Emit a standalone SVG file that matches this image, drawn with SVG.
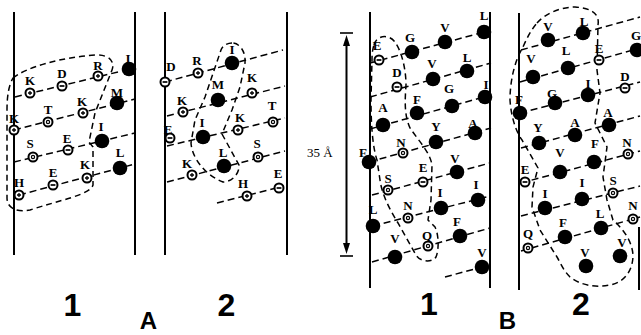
<svg xmlns="http://www.w3.org/2000/svg" xmlns:xlink="http://www.w3.org/1999/xlink" width="641" height="335" viewBox="0 0 641 335">
<style>
.ax{stroke:#000;stroke-width:2;fill:none}
.row{stroke:#000;stroke-width:1.5;stroke-dasharray:7 4;fill:none}
.loop{stroke:#000;stroke-width:1.5;stroke-dasharray:6 4;fill:none}
.lb{font-family:"Liberation Serif",serif;font-weight:bold;font-size:13px;text-anchor:middle;fill:#000}
.big{font-family:"Liberation Sans",Arial,sans-serif;font-weight:bold;text-anchor:middle;fill:#000}
</style>
<defs>
<circle id="h" r="7.3" fill="#000"/>
<g id="p"><circle r="4.5" fill="#fff" stroke="#000" stroke-width="2"/><path d="M-2,0H2M0,-2V2" stroke="#000" stroke-width="1.3"/></g>
<g id="n"><circle r="4.5" fill="#fff" stroke="#000" stroke-width="2"/><path d="M-2.4,0H2.4" stroke="#000" stroke-width="1.7"/></g>
<g id="o"><circle r="4.5" fill="#fff" stroke="#000" stroke-width="2"/><circle r="1.6" fill="none" stroke="#000" stroke-width="1.2"/></g>
</defs>
<rect width="641" height="335" fill="#fff"/>

<g id="axes">
<line class="ax" x1="14" y1="12" x2="14" y2="255"/>
<line class="ax" x1="135" y1="12" x2="135" y2="255"/>
<line class="ax" x1="165" y1="12" x2="165" y2="255"/>
<line class="ax" x1="287" y1="12" x2="287" y2="255"/>
<line class="ax" x1="370" y1="12" x2="370" y2="288"/>
<line class="ax" x1="490" y1="12" x2="490" y2="288"/>
<line class="ax" x1="519" y1="13" x2="519" y2="290"/>
<line class="ax" x1="639" y1="227" x2="639" y2="290"/>
</g>

<g id="connectors">
<line class="row" x1="15" y1="97" x2="122" y2="71"/>
<line class="row" x1="14" y1="130" x2="135" y2="99"/>
<line class="row" x1="14" y1="162" x2="135" y2="133"/>
<line class="row" x1="19" y1="195" x2="135" y2="164"/>
<line class="row" x1="165" y1="82" x2="283" y2="50"/>
<line class="row" x1="167" y1="116" x2="285" y2="86"/>
<line class="row" x1="167" y1="146" x2="285" y2="118"/>
<line class="row" x1="167" y1="182" x2="285" y2="151"/>
<line class="row" x1="217" y1="203" x2="284" y2="186"/>
<line class="row" x1="370" y1="63" x2="484" y2="32"/>
<line class="row" x1="370" y1="97" x2="491" y2="63"/>
<line class="row" x1="370" y1="129" x2="491" y2="95"/>
<line class="row" x1="369" y1="162" x2="491" y2="128"/>
<line class="row" x1="372" y1="195" x2="490" y2="163"/>
<line class="row" x1="373" y1="226" x2="490" y2="196"/>
<line class="row" x1="372" y1="262" x2="490" y2="228"/>
<line class="row" x1="445" y1="277" x2="482" y2="267"/>
<line class="row" x1="521" y1="50" x2="640" y2="17"/>
<line class="row" x1="520" y1="82" x2="640" y2="48"/>
<line class="row" x1="520" y1="113" x2="640" y2="82"/>
<line class="row" x1="521" y1="148" x2="640" y2="116"/>
<line class="row" x1="521" y1="183" x2="640" y2="151"/>
<line class="row" x1="521" y1="216" x2="640" y2="186"/>
<line class="row" x1="521" y1="251" x2="640" y2="217"/>
<path class="loop" d="M13,78 C25,68 60,57 97,55 C110,55 115,62 112,70 L95,113 L89,142 L93,147 L93,185 C90,195 60,200 30,210 C15,213 7,207 7,198 L7,110 C7,95 9,85 13,78 Z"/>
<path class="loop" d="M232,43 C226,43 222,47 221,50 L205,97 L195,120 L191,143 C192,158 205,175 223,182 C233,182 240,172 239,165 L222,134 L232,110 L240,87 L245,63 C246,52 240,43 232,43 Z"/>
<path class="loop" d="M374,45 C376,36 388,33 395,42 C402,52 406,70 406,85 C405,100 404,115 410,128 C418,140 430,152 432,165 L431,200 L428,220 L435,227 C439,235 439,250 436,257 C432,263 420,262 416,255 L398,223 C390,210 382,195 380,180 L377,160 C372,145 371,120 371,100 L372,60 C372,52 373,48 374,45 Z"/>
<path class="loop" d="M537,23 C545,14 560,7 575,7 C590,8 600,13 598,25 L597,70 L600,93 L595,123 L607,147 L603,177 L607,200 L613,220 C622,228 632,240 633,255 C633,270 625,282 610,285 C595,288 580,285 570,277 C563,270 560,262 557,257 L540,230 L532,207 L533,187 L538,168 L522,140 C515,130 511,115 510,100 C510,80 515,60 523,47 C527,38 531,30 537,23 Z"/>
</g>

<g id="scale">
<line x1="340" y1="33" x2="353" y2="33" stroke="#000" stroke-width="1.6"/>
<line x1="340" y1="256" x2="353" y2="256" stroke="#000" stroke-width="1.6"/>
<line x1="346.5" y1="42" x2="346.5" y2="247" stroke="#000" stroke-width="2"/>
<polygon points="346.5,35 343,46 350,46" fill="#000"/>
<polygon points="346.5,254 343,243 350,243" fill="#000"/>
<text x="307" y="157" font-family="Liberation Serif,serif" font-size="13">35 Å</text>
</g>

<g id="panelA1">
<g id="a1-K1"><use href="#p" x="30" y="93"/><text class="lb" x="30" y="85">K</text></g>
<g id="a1-D1"><use href="#n" x="62" y="86"/><text class="lb" x="62" y="78">D</text></g>
<g id="a1-R1"><use href="#p" x="98" y="76"/><text class="lb" x="98" y="70">R</text></g>
<g id="a1-I1"><use href="#h" x="129" y="69"/><text class="lb" x="128" y="63">I</text></g>
<g id="a1-K2"><use href="#p" x="14" y="130"/><text class="lb" x="14" y="123">K</text></g>
<g id="a1-T1"><use href="#o" x="48" y="122"/><text class="lb" x="48" y="114">T</text></g>
<g id="a1-K3"><use href="#p" x="83" y="113"/><text class="lb" x="82" y="106">K</text></g>
<g id="a1-M1"><use href="#h" x="117" y="103"/><text class="lb" x="117" y="97">M</text></g>
<g id="a1-S1"><use href="#o" x="33" y="157"/><text class="lb" x="30" y="148">S</text></g>
<g id="a1-E1"><use href="#n" x="68" y="150"/><text class="lb" x="67" y="143">E</text></g>
<g id="a1-I2"><use href="#h" x="102" y="141"/><text class="lb" x="101" y="131">I</text></g>
<g id="a1-L1"><use href="#h" x="120" y="168"/><text class="lb" x="120" y="157">L</text></g>
<g id="a1-H1"><use href="#p" x="19" y="195"/><text class="lb" x="19" y="187">H</text></g>
<g id="a1-E2"><use href="#n" x="53" y="185"/><text class="lb" x="53" y="177">E</text></g>
<g id="a1-K4"><use href="#p" x="87" y="178"/><text class="lb" x="85" y="169">K</text></g>
</g>

<g id="panelA2">
<g id="a2-D1"><use href="#n" x="165" y="82"/><text class="lb" x="171" y="71">D</text></g>
<g id="a2-R1"><use href="#p" x="198" y="73"/><text class="lb" x="197" y="65">R</text></g>
<g id="a2-I1"><use href="#h" x="232" y="63"/><text class="lb" x="232" y="54">I</text></g>
<g id="a2-K1"><use href="#p" x="183" y="112"/><text class="lb" x="182" y="105">K</text></g>
<g id="a2-M1"><use href="#h" x="218" y="100"/><text class="lb" x="218" y="89">M</text></g>
<g id="a2-K2"><use href="#p" x="252" y="93"/><text class="lb" x="252" y="82">K</text></g>
<g id="a2-E1"><use href="#n" x="170" y="138"/><text class="lb" x="168" y="134">E</text></g>
<g id="a2-I2"><use href="#h" x="203" y="137"/><text class="lb" x="202" y="127">I</text></g>
<g id="a2-K3"><use href="#p" x="238" y="130"/><text class="lb" x="240" y="122">K</text></g>
<g id="a2-T1"><use href="#o" x="273" y="122"/><text class="lb" x="272" y="110">T</text></g>
<g id="a2-K4"><use href="#p" x="192" y="175"/><text class="lb" x="187" y="168">K</text></g>
<g id="a2-L1"><use href="#h" x="224" y="166"/><text class="lb" x="223" y="157">L</text></g>
<g id="a2-S1"><use href="#o" x="258" y="157"/><text class="lb" x="257" y="148">S</text></g>
<g id="a2-H1"><use href="#p" x="247" y="196"/><text class="lb" x="243" y="188">H</text></g>
<g id="a2-E2"><use href="#n" x="279" y="188"/><text class="lb" x="278" y="178">E</text></g>
</g>

<g id="panelB1">
<g id="b1-E1"><use href="#n" x="379" y="60"/><text class="lb" x="377" y="50">E</text></g>
<g id="b1-G1"><use href="#h" x="412" y="52"/><text class="lb" x="410" y="42">G</text></g>
<g id="b1-V1"><use href="#h" x="445" y="42"/><text class="lb" x="445" y="32">V</text></g>
<g id="b1-L1"><use href="#h" x="484" y="32"/><text class="lb" x="484" y="20">L</text></g>
<g id="b1-D1"><use href="#n" x="397" y="87"/><text class="lb" x="397" y="77">D</text></g>
<g id="b1-V2"><use href="#h" x="433" y="79"/><text class="lb" x="432" y="68">V</text></g>
<g id="b1-L2"><use href="#h" x="467" y="71"/><text class="lb" x="467" y="62">L</text></g>
<g id="b1-A1"><use href="#h" x="383" y="125"/><text class="lb" x="383" y="112">A</text></g>
<g id="b1-F1"><use href="#h" x="417" y="113"/><text class="lb" x="417" y="104">F</text></g>
<g id="b1-G2"><use href="#h" x="452" y="106"/><text class="lb" x="449" y="93">G</text></g>
<g id="b1-I1"><use href="#h" x="485" y="97"/><text class="lb" x="486" y="89">I</text></g>
<g id="b1-F2"><use href="#h" x="369" y="162"/><text class="lb" x="363" y="157">F</text></g>
<g id="b1-N1"><use href="#o" x="403" y="153"/><text class="lb" x="401" y="147">N</text></g>
<g id="b1-Y1"><use href="#h" x="436" y="142"/><text class="lb" x="436" y="131">Y</text></g>
<g id="b1-A2"><use href="#h" x="475" y="133"/><text class="lb" x="473" y="128">A</text></g>
<g id="b1-S1"><use href="#o" x="388" y="190"/><text class="lb" x="388" y="183">S</text></g>
<g id="b1-E2"><use href="#n" x="423" y="182"/><text class="lb" x="423" y="172">E</text></g>
<g id="b1-V3"><use href="#h" x="457" y="172"/><text class="lb" x="455" y="163">V</text></g>
<g id="b1-L3"><use href="#h" x="373" y="226"/><text class="lb" x="373" y="214">L</text></g>
<g id="b1-N2"><use href="#o" x="408" y="218"/><text class="lb" x="408" y="210">N</text></g>
<g id="b1-I2"><use href="#h" x="441" y="208"/><text class="lb" x="440" y="197">I</text></g>
<g id="b1-I3"><use href="#h" x="478" y="200"/><text class="lb" x="476" y="189">I</text></g>
<g id="b1-V4"><use href="#h" x="395" y="257"/><text class="lb" x="395" y="243">V</text></g>
<g id="b1-Q1"><use href="#o" x="428" y="246"/><text class="lb" x="427" y="240">Q</text></g>
<g id="b1-F3"><use href="#h" x="460" y="236"/><text class="lb" x="457" y="226">F</text></g>
<g id="b1-V5"><use href="#h" x="482" y="267"/><text class="lb" x="482" y="257">V</text></g>
</g>

<g id="panelB2">
<g id="b2-V1"><use href="#h" x="548" y="40"/><text class="lb" x="548" y="31">V</text></g>
<g id="b2-L1"><use href="#h" x="583" y="33"/><text class="lb" x="584" y="26">L</text></g>
<g id="b2-V2"><use href="#h" x="533" y="77"/><text class="lb" x="531" y="63">V</text></g>
<g id="b2-L2"><use href="#h" x="568" y="68"/><text class="lb" x="566" y="55">L</text></g>
<g id="b2-E1"><use href="#n" x="599" y="60"/><text class="lb" x="599" y="53">E</text></g>
<g id="b2-G1"><use href="#h" x="637" y="50"/><text class="lb" x="636" y="40">G</text></g>
<g id="b2-F1"><use href="#h" x="520" y="113"/><text class="lb" x="519" y="104">F</text></g>
<g id="b2-G2"><use href="#h" x="555" y="103"/><text class="lb" x="552" y="98">G</text></g>
<g id="b2-I1"><use href="#h" x="588" y="95"/><text class="lb" x="588" y="88">I</text></g>
<g id="b2-D1"><use href="#n" x="625" y="88"/><text class="lb" x="625" y="81">D</text></g>
<g id="b2-Y1"><use href="#h" x="539" y="143"/><text class="lb" x="538" y="132">Y</text></g>
<g id="b2-A1"><use href="#h" x="575" y="135"/><text class="lb" x="575" y="127">A</text></g>
<g id="b2-A2"><use href="#h" x="609" y="125"/><text class="lb" x="608" y="117">A</text></g>
<g id="b2-E2"><use href="#n" x="525" y="182"/><text class="lb" x="525" y="174">E</text></g>
<g id="b2-V3"><use href="#h" x="560" y="172"/><text class="lb" x="560" y="157">V</text></g>
<g id="b2-F2"><use href="#h" x="594" y="162"/><text class="lb" x="595" y="148">F</text></g>
<g id="b2-N1"><use href="#o" x="628" y="154"/><text class="lb" x="627" y="147">N</text></g>
<g id="b2-I2"><use href="#h" x="545" y="208"/><text class="lb" x="545" y="198">I</text></g>
<g id="b2-I3"><use href="#h" x="582" y="199"/><text class="lb" x="582" y="187">I</text></g>
<g id="b2-S1"><use href="#o" x="613" y="193"/><text class="lb" x="613" y="185">S</text></g>
<g id="b2-Q1"><use href="#o" x="528" y="248"/><text class="lb" x="528" y="238">Q</text></g>
<g id="b2-F3"><use href="#h" x="565" y="237"/><text class="lb" x="563" y="227">F</text></g>
<g id="b2-L3"><use href="#h" x="601" y="228"/><text class="lb" x="600" y="218">L</text></g>
<g id="b2-N2"><use href="#o" x="633" y="219"/><text class="lb" x="633" y="210">N</text></g>
<g id="b2-V4"><use href="#h" x="586" y="266"/><text class="lb" x="585" y="257">V</text></g>
<g id="b2-V5"><use href="#h" x="620" y="256"/><text class="lb" x="622" y="247">V</text></g>
</g>

<g id="captions">
<text class="big" x="72.5" y="316" font-size="32">1</text>
<text class="big" x="148.5" y="329" font-size="24">A</text>
<text class="big" x="226.5" y="316" font-size="32">2</text>
<text class="big" x="429" y="315" font-size="32">1</text>
<text class="big" x="507.5" y="329" font-size="24">B</text>
<text class="big" x="581" y="315" font-size="32">2</text>
</g>
</svg>
